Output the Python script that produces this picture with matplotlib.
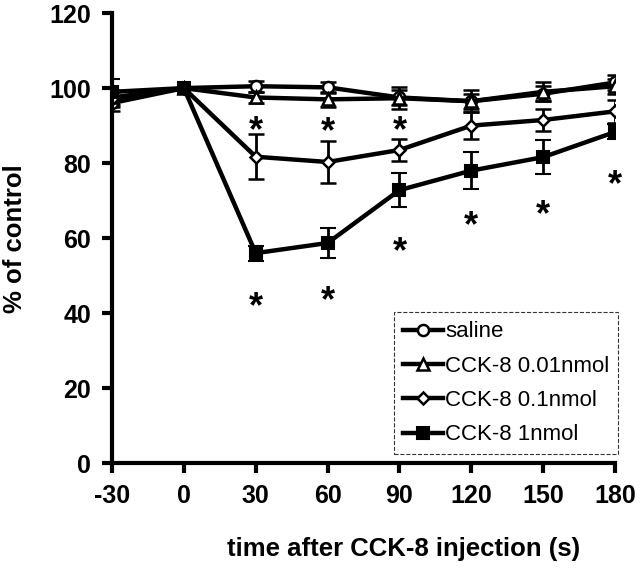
import matplotlib
matplotlib.use("Agg")
import matplotlib.pyplot as plt
from matplotlib.lines import Line2D

plt.rcParams['font.family'] = ['Liberation Sans', 'DejaVu Sans']
plt.rcParams['axes.unicode_minus'] = False

time = [-30, 0, 30, 60, 90, 120, 150, 180]
saline = [96, 100, 100.5, 100.2, 97.5, 96.5, 98.5, 101.5]
saline_err = [2, 0, 1.5, 1.5, 2, 2, 2, 2]
cck001 = [97.5, 100, 97.5, 97, 97.3, 96.5, 99, 100.5]
cck001_err = [2, 0, 1.5, 2, 3, 3, 2.5, 2]
cck01 = [97, 100, 81.7, 80.3, 83.5, 90, 91.5, 93.8]
cck01_err = [2, 0, 6, 5.5, 3, 3.5, 3, 3]
cck1 = [99, 100, 56, 58.7, 72.8, 78, 81.6, 88.3]
cck1_err = [3.5, 0, 2, 4, 4.5, 5, 4.5, 2]

star_x = [30, 30, 60, 60, 90, 90, 120, 150, 180]
star_y = [88.5, 41.5, 88, 43, 88.5, 56, 63, 66, 74]

labels = ['saline', 'CCK-8 0.01nmol', 'CCK-8 0.1nmol', 'CCK-8 1nmol']

fig = plt.figure(figsize=(6.4, 5.69), dpi=100)
ax = fig.add_axes([0.175, 0.186, 0.786, 0.791])

lw = 3.2
styles = [
    (saline, saline_err, dict(marker='o', mfc='white', mec='black', ms=8, mew=1.8)),
    (cck001, cck001_err, dict(marker='^', mfc='white', mec='black', ms=8, mew=1.8)),
    (cck01, cck01_err, dict(marker='D', mfc='white', mec='black', ms=6, mew=1.8)),
    (cck1, cck1_err, dict(marker='s', mfc='black', mec='black', ms=9, mew=1.5)),
]
handles = []
for (vals, err, st), lab in zip(styles, labels):
    ax.errorbar(time, vals, yerr=err, color='black', lw=lw, elinewidth=2,
                capsize=6, capthick=2, **st)
    handles.append(Line2D([], [], color='black', lw=lw, label=lab, **st))

for x, y in zip(star_x, star_y):
    ax.text(x, y, '*', ha='center', va='center', fontsize=26, fontweight='bold')

ax.set_xlim(-30, 180)
ax.set_ylim(0, 120)
ax.set_xticks(time)
ax.set_yticks([0, 20, 40, 60, 80, 100, 120])
ax.spines['top'].set_visible(False)
ax.spines['right'].set_visible(False)
ax.spines['left'].set_linewidth(3)
ax.spines['bottom'].set_linewidth(3)
ax.tick_params(axis='both', direction='out', length=7, width=3, labelsize=18, pad=8)
for t in ax.get_xticklabels() + ax.get_yticklabels():
    t.set_fontweight('bold')
for sp in ax.spines.values():
    sp.set_clip_on(False)

ax.set_xlabel('time after CCK-8 injection (s)', fontsize=18.5, fontweight='bold')
ax.xaxis.set_label_coords(0.58, -0.165)
ax.set_ylabel('% of control', fontsize=18.5, fontweight='bold', labelpad=16)

leg = ax.legend(handles=handles, loc='lower right', bbox_to_anchor=(1.015, 0.01), fontsize=16,
                frameon=True, fancybox=False, edgecolor='black', handlelength=1.8,
                handletextpad=0.1, borderpad=0.4, labelspacing=0.6, borderaxespad=0.2)
leg.get_frame().set_linewidth(0.8)
leg.get_frame().set_linestyle('--')

fig.savefig('out.png', dpi=100)
